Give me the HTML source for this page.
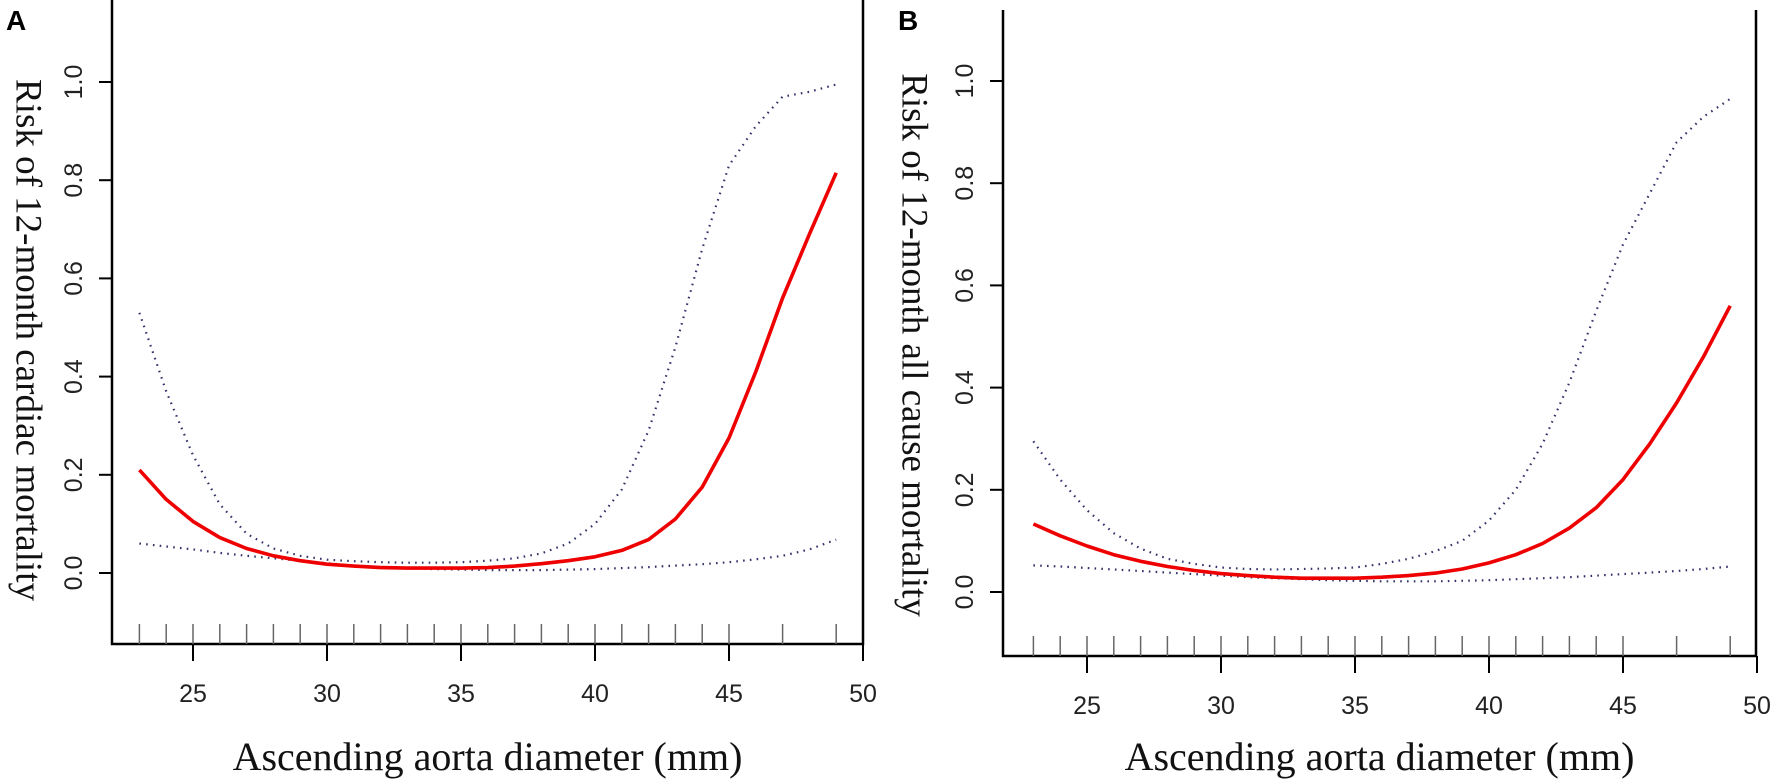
<!DOCTYPE html>
<html><head><meta charset="utf-8"><style>
html,body{margin:0;padding:0;background:#fff;}
svg{display:block;}
</style></head><body>
<svg id="chart" width="1772" height="779" xmlns="http://www.w3.org/2000/svg"></svg>
<script>
const xVals = [23,24,25,26,27,28,29,30,31,32,33,34,35,36,37,38,39,40,41,42,43,44,45,46,47,48,49];
const aFit = [0.21,0.15,0.105,0.072,0.05,0.035,0.025,0.018,0.014,0.011,0.01,0.01,0.01,0.011,0.014,0.019,0.025,0.033,0.046,0.068,0.11,0.175,0.275,0.41,0.56,0.69,0.815];
const aUpper = [0.53,0.37,0.24,0.14,0.08,0.05,0.035,0.027,0.024,0.022,0.021,0.021,0.022,0.025,0.03,0.04,0.06,0.1,0.17,0.29,0.46,0.66,0.83,0.91,0.97,0.98,0.995];
const aLower = [0.06,0.054,0.048,0.041,0.035,0.03,0.025,0.02,0.015,0.012,0.01,0.008,0.007,0.006,0.006,0.006,0.007,0.008,0.01,0.012,0.015,0.018,0.022,0.028,0.035,0.048,0.068];
const bFit = [0.133,0.11,0.09,0.073,0.06,0.05,0.042,0.036,0.032,0.029,0.027,0.027,0.027,0.029,0.032,0.037,0.045,0.057,0.073,0.095,0.125,0.165,0.22,0.29,0.37,0.46,0.56];
const bUpper = [0.295,0.22,0.16,0.115,0.085,0.065,0.055,0.048,0.045,0.044,0.045,0.046,0.048,0.055,0.065,0.08,0.1,0.14,0.2,0.29,0.41,0.55,0.68,0.78,0.88,0.93,0.965];
const bLower = [0.052,0.05,0.047,0.044,0.041,0.038,0.035,0.032,0.029,0.027,0.025,0.023,0.022,0.021,0.021,0.021,0.022,0.023,0.025,0.027,0.029,0.032,0.035,0.038,0.041,0.045,0.05];
const rugX = [23,24,25,26,27,28,29,30,31,32,33,34,35,36,37,38,39,40,41,42,43,44,45,47,49];
const xTicks = [25,30,35,40,45,50];
const yTicks = [0.0,0.2,0.4,0.6,0.8,1.0];

const svg = document.getElementById('chart');
const NS = 'http://www.w3.org/2000/svg';
function mk(tag, attrs, parent){
  const e = document.createElementNS(NS, tag);
  for (const k in attrs) e.setAttribute(k, attrs[k]);
  (parent||svg).appendChild(e);
  return e;
}

function panel(cfg){
  const g = mk('g', {});
  
  
  const X = v => cfg.x25 + (v-25)*cfg.pxPerUnit;
  const Y = v => cfg.y0 - v*cfg.pxPerY;
  const ax = mk('path', {d:`M${cfg.left},${cfg.top} V${cfg.bottom} H${cfg.right} V${cfg.top}`, fill:'none', stroke:'#000', 'stroke-width':2.5}, g);
  
  
  yTicks.forEach(t=>{
    const tk = mk('line', {x1:cfg.left-13, x2:cfg.left, y1:Y(t), y2:Y(t), stroke:'#000', 'stroke-width':2}, g);
    
    
    const lx = cfg.left-38;
    const tx = mk('text', {x:lx, y:Y(t), 'font-family':'Liberation Sans, sans-serif', 'font-size':25, 'text-anchor':'middle', 'dominant-baseline':'central', transform:`rotate(-90 ${lx} ${Y(t)})`, fill:'#222'}, g);
    tx.textContent = t.toFixed(1);
    
    
  });
  xTicks.forEach(t=>{
    const tk = mk('line', {x1:X(t), x2:X(t), y1:cfg.bottom, y2:cfg.bottom+17, stroke:'#000', 'stroke-width':2}, g);
    
    
    const tx = mk('text', {x:X(t), y:cfg.bottom+58, 'font-family':'Liberation Sans, sans-serif', 'font-size':25, 'text-anchor':'middle', fill:'#222'}, g);
    tx.textContent = t;
    
    
  });
  rugX.forEach(v=>{
    const r = mk('line', {x1:X(v), x2:X(v), y1:cfg.bottom-20, y2:cfg.bottom, stroke:'#666', 'stroke-width':1.5}, g);
    
    
  });
  const pts = arr => arr.map((v,i)=>`${X(xVals[i]).toFixed(1)},${Y(v).toFixed(1)}`).join(' ');
  const up = mk('polyline', {points:pts(cfg.upper), fill:'none', stroke:'#33336a', 'stroke-width':2.2, 'stroke-dasharray':'1.6 5.2'}, g);
  
  
  const lo = mk('polyline', {points:pts(cfg.lower), fill:'none', stroke:'#33336a', 'stroke-width':2.2, 'stroke-dasharray':'1.6 5.2'}, g);
  
  
  const fit = mk('polyline', {points:pts(cfg.fit), fill:'none', stroke:'#ee0000', 'stroke-width':3.6, 'stroke-linejoin':'round'}, g);
  
  
  const yl = mk('text', {x:cfg.ylabX, y:cfg.ylabY, 'font-family':'Liberation Serif, serif', 'font-size':37, 'text-anchor':'middle', 'dominant-baseline':'central', transform:`rotate(90 ${cfg.ylabX} ${cfg.ylabY})`, fill:'#111'}, g);
  yl.textContent = cfg.ylab;
  
  
  const xl = mk('text', {x:(cfg.left+cfg.right)/2, y:770, 'font-family':'Liberation Serif, serif', 'font-size':40, 'text-anchor':'middle', fill:'#111'}, g);
  xl.textContent = 'Ascending aorta diameter (mm)';
  
  
  const pl = mk('text', {x:cfg.letterX, y:30, 'font-family':'Liberation Sans, sans-serif', 'font-size':28, 'font-weight':'bold', fill:'#000'}, g);
  pl.textContent = cfg.letter;
  
  
}

panel({name:'panel-a', left:112, right:863, top:0, bottom:644, x25:193, pxPerUnit:26.8, y0:573, pxPerY:491,
  fit:aFit, upper:aUpper, lower:aLower, ylab:'Risk of 12-month cardiac mortality', ylabX:28, ylabY:340, letter:'A', letterX:6});
panel({name:'panel-b', left:1003, right:1756, top:10, bottom:656, x25:1087, pxPerUnit:26.8, y0:592, pxPerY:511,
  fit:bFit, upper:bUpper, lower:bLower, ylab:'Risk of 12-month all cause mortality', ylabX:914, ylabY:345, letter:'B', letterX:898});
</script>
</body></html>
